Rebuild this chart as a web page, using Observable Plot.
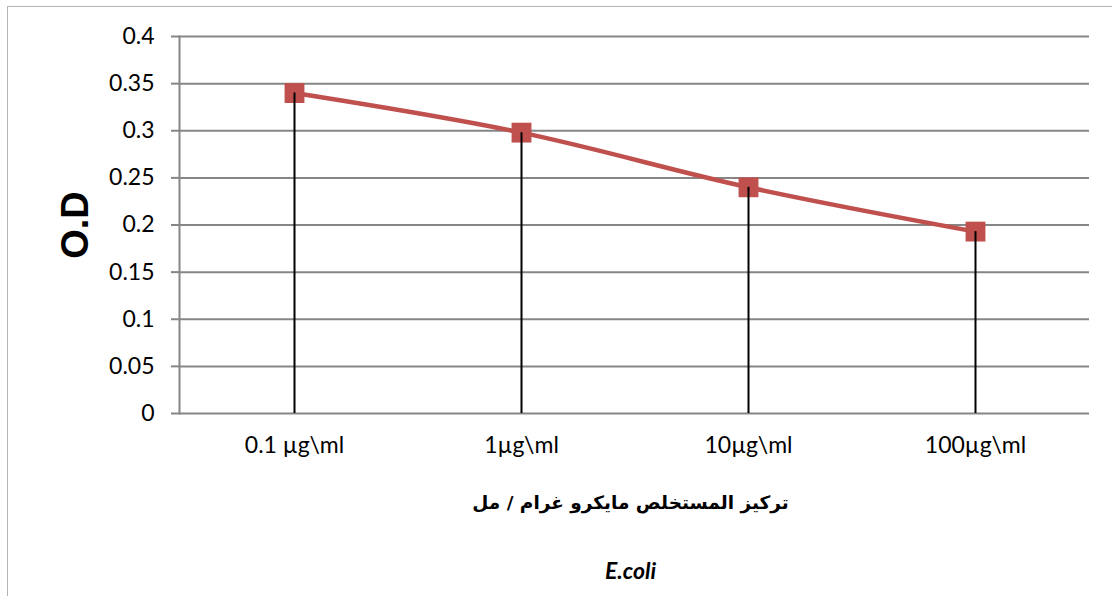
<!DOCTYPE html>
<html>
<head>
<meta charset="utf-8">
<script src="https://cdn.jsdelivr.net/npm/d3@7"></script>
<script src="https://cdn.jsdelivr.net/npm/@observablehq/plot@0.6"></script>
<style>
  html, body { margin: 0; padding: 0; background: #fff; overflow: hidden; }
  #wrap { position: relative; width: 1112px; height: 596px; }
  #border { position: absolute; left: 7px; top: 6px; width: 1200px; height: 700px;
            border: 1.5px solid #b4b4b4; box-sizing: border-box; }
  #chart { position: absolute; left: 0; top: 0; }
</style>
</head>
<body>
<div id="wrap"><div id="border"></div><div id="chart"></div></div>
<script>
const categories = ["0.1 µg\\ml", "1µg\\ml", "10µg\\ml", "100µg\\ml"];
const values = [0.34, 0.298, 0.24, 0.193];
const yTicks = [0, 0.05, 0.1, 0.15, 0.2, 0.25, 0.3, 0.35, 0.4];
const yTitle = "O.D";
const xTitle = "تركيز المستخلص مايكرو غرام / مل";
const caption = "E.coli";

const data = categories.map((c, i) => ({cat: c, v: values[i]}));

const chart = Plot.plot({
  width: 1112,
  height: 596,
  marginLeft: 179,
  marginRight: 23,
  marginTop: 36,
  marginBottom: 183,
  style: {background: "transparent", color: "black", fontFamily: "Lato, 'Open Sans', sans-serif"},
  x: {type: "point", domain: categories, padding: 0.5},
  y: {domain: [0, 0.4]},
  marks: [
    Plot.gridY(yTicks, {stroke: "#868686", strokeOpacity: 1, strokeWidth: 2}),
    Plot.frame({anchor: "left", stroke: "#868686", strokeWidth: 2}),
    Plot.axisY(yTicks, {tickSize: 8, tickPadding: 17, stroke: "#868686", strokeWidth: 2, fill: "black",
      fontSize: 23, tickFormat: d => String(d), label: null}),
    Plot.axisX({tickSize: 0, tickPadding: 23, fontSize: 23, fill: "black", label: null}),
    Plot.line(data, {x: "cat", y: "v", stroke: "#C0504D", strokeWidth: 4.5, curve: "monotone-x"}),
    Plot.dot(data, {x: "cat", y: "v", symbol: "square", r: 11.2, fill: "#C0504D", stroke: "none"}),
    Plot.ruleX(data, {x: "cat", y1: 0, y2: "v", stroke: "black", strokeWidth: 2}),
    Plot.text([yTitle], {text: d => d, frameAnchor: "left", dx: -104, rotate: -90, textAnchor: "middle",
      fontSize: 38, fontWeight: "bold", fontFamily: "'Liberation Sans', Arial, sans-serif", fill: "black"}),
    Plot.text([xTitle], {text: d => d, frameAnchor: "bottom", dy: 95, dx: -4, textAnchor: "middle",
      fontSize: 18.5, fontWeight: "bold", fontFamily: "'DejaVu Sans', sans-serif", fill: "black"}),
    Plot.text([caption], {text: d => d, frameAnchor: "bottom", dy: 165, dx: -4, textAnchor: "middle",
      fontSize: 23, fontWeight: "bold", fontStyle: "italic", fill: "black"})
  ]
});
document.getElementById("chart").appendChild(chart);
</script>
</body>
</html>
